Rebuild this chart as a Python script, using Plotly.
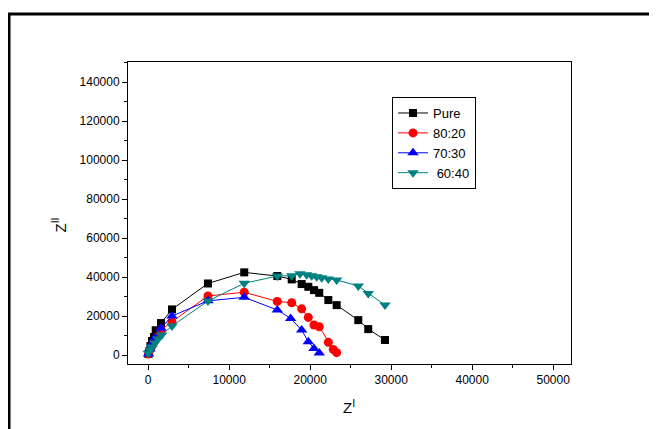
import plotly.graph_objects as go

# ---- data ----
pure_x = [37, 100, 280, 470, 720, 930, 1580, 2940, 7380, 11860, 15940, 17720, 18950, 19770, 20470, 21120, 22240, 23270, 25940, 27170, 29240]
pure_y = [513, 1500, 4600, 7200, 9200, 12700, 16400, 23400, 36700, 42400, 40500, 38800, 36400, 35000, 33300, 31900, 28200, 25600, 17900, 13300, 7700]

r8020_x = [40, 220, 470, 720, 1090, 1580, 2940, 7380, 11860, 15940, 17720, 18950, 19770, 20470, 21120, 22240, 22850, 23270]
r8020_y = [500, 2600, 4600, 6700, 9200, 12800, 17100, 30300, 32200, 27500, 26800, 23700, 19300, 15400, 14500, 6500, 2900, 1200]

r7030_x = [40, 220, 470, 840, 1580, 2940, 7380, 11860, 15940, 17590, 18950, 19770, 20470, 21120]
r7030_y = [500, 3100, 5600, 8700, 13700, 20000, 27800, 29600, 23100, 18800, 12800, 6800, 3400, 1000]

r6040_x = [10, 220, 470, 840, 1210, 1670, 2940, 7380, 11860, 15940, 17720, 18740, 19570, 20190, 20800, 21420, 22240, 23270, 25940, 27170, 29240]
r6040_y = [900, 2600, 4100, 6200, 8200, 10300, 14900, 27700, 36800, 40500, 40700, 41700, 41200, 40700, 40200, 39600, 39000, 38500, 35400, 31600, 25600]

x_ticks = [0, 10000, 20000, 30000, 40000, 50000]
x_labels = ["0", "10000", "20000", "30000", "40000", "50000"]
y_ticks = [0, 20000, 40000, 60000, 80000, 100000, 120000, 140000]
y_labels = ["0", "20000", "40000", "60000", "80000", "100000", "120000", "140000"]

FONT = "Liberation Sans, Arial, sans-serif"

fig = go.Figure()
series = [
    ("Pure", pure_x, pure_y, "#000000", "square", 8),
    ("80:20", r8020_x, r8020_y, "#FF0000", "circle", 9),
    ("70:30", r7030_x, r7030_y, "#0000FF", "triangle-up", 10),
    (" 60:40", r6040_x, r6040_y, "#008080", "triangle-down", 10),
]
for name, xs, ys, col, sym, sz in series:
    fig.add_trace(go.Scatter(
        x=xs, y=ys, name=name, mode="lines+markers",
        line=dict(color=col, width=1),
        marker=dict(symbol=sym, size=sz, color=col, line=dict(width=0)),
    ))

axis_common = dict(
    showgrid=False, zeroline=False, showline=True, linecolor="black", linewidth=1,
    mirror=True, ticks="outside", ticklen=5, tickcolor="black", tickwidth=1,
    tickfont=dict(family=FONT, size=12, color="black"), automargin=False,
)

fig.update_xaxes(range=[-2490, 52200], tickvals=x_ticks, ticktext=x_labels,
                 minor=dict(ticks="outside", ticklen=3, dtick=5000, tick0=0, tickcolor="black"),
                 **axis_common)
fig.update_yaxes(range=[-4600, 150300], tickvals=y_ticks, ticktext=y_labels,
                 minor=dict(ticks="outside", ticklen=3, dtick=10000, tick0=0, tickcolor="black"),
                 **axis_common)

# page body adds an 8px offset; plot area sits at 128..571 x 62..364 on screen
fig.update_layout(
    width=657, height=429,
    margin=dict(l=120, r=94, t=54, b=73, autoexpand=False),
    paper_bgcolor="white", plot_bgcolor="white",
    font=dict(family=FONT, color="black"),
    legend=dict(
        x=0.596, y=0.884, xanchor="left", yanchor="top",
        bordercolor="black", borderwidth=1, bgcolor="white",
        font=dict(family=FONT, size=13, color="black"),
        tracegroupgap=0,
    ),
    showlegend=True,
)

# axis titles
fig.add_annotation(text="Z<sup>I</sup>", xref="paper", yref="paper",
                   x=(349 - 128) / 443, y=(364 - 418) / 302,
                   showarrow=False, font=dict(family=FONT, size=15, color="black"))
fig.add_annotation(text="Z<sup>II</sup>", xref="paper", yref="paper",
                   x=(47 - 128) / 443, y=(364 - 225) / 302, textangle=-90,
                   showarrow=False, font=dict(family=FONT, size=15, color="black"))

# outer frame (top and left lines)
fig.add_shape(type="line", xref="paper", yref="paper",
              x0=(8 - 128) / 443, x1=(670 - 128) / 443,
              y0=(364 - 14) / 302, y1=(364 - 14) / 302,
              line=dict(color="black", width=3))
fig.add_shape(type="line", xref="paper", yref="paper",
              x0=(9 - 128) / 443, x1=(9 - 128) / 443,
              y0=(364 - 13) / 302, y1=(364 - 440) / 302,
              line=dict(color="black", width=3))

fig.write_html("out.html")
